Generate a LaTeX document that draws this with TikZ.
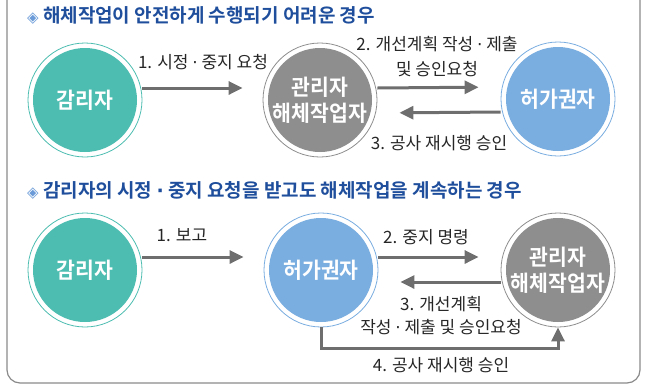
\documentclass[tikz,border=0pt]{standalone}
\usepackage{fontspec}
\setmainfont{Noto Sans CJK KR}[BoldFont={Noto Sans CJK KR Bold}]
\newfontfamily\condfont{Noto Sans CJK KR}[FakeStretch=0.93, BoldFont={Noto Sans CJK KR Bold}]
\newfontfamily\symfont{DejaVu Sans}
\usetikzlibrary{arrows.meta}

\definecolor{tealfill}{HTML}{4DBDB1}
\definecolor{greyfill}{HTML}{8E8E8E}
\definecolor{bluefill}{HTML}{7AADE0}
\definecolor{arrowgrey}{HTML}{6E6E6E}
\definecolor{titleblue}{HTML}{1E4E9C}
\definecolor{diamondblue}{HTML}{6A9BD8}
\definecolor{framegrey}{HTML}{8A8A8A}

\newcommand{\headmark}{{\symfont\color{diamondblue}\fontsize{15}{18}\selectfont ◈}}
\newcommand{\mdot}{{\symfont ·}}

\tikzset{
  party/.style={circle, minimum size=114pt, inner sep=0pt, draw=#1, line width=0.8pt, fill=white,
    path picture={\fill[#1] (path picture bounding box.center) circle (52pt);},
    text=white, font=\condfont\bfseries\fontsize{22}{26}\selectfont, align=center},
  flow/.style={draw=arrowgrey, line width=3pt, -{Triangle[length=14pt,width=13pt]}},
  steplabel/.style={text=black!85, font=\fontsize{17}{23}\selectfont, align=center, inner sep=0pt},
  heading/.style={anchor=west, text=titleblue, font=\bfseries\fontsize{19}{20}\selectfont, inner sep=0pt}
}

\begin{document}
\begin{tikzpicture}[x=1pt, y=-1pt]
    \useasboundingbox (0,0) rectangle (645,386);
    \draw [framegrey, line width=1.2pt, rounded corners=13pt] (7,-20) rectangle (640,383);

    % Headings
    \node (head1) [heading] at (27,15) {\headmark\ 해체작업이 안전하게 수행되기 어려운 경우};
    \node (head2) [heading] at (27,190) {\headmark\ 감리자의 시정 \mdot{} 중지 요청을 받고도 해체작업을 계속하는 경우};

    % Nodes
    \node (gamri1) [party=tealfill] at (85,100) {감리자};
    \node (gwanri1) [party=greyfill] at (320,100) {관리자\\해체작업자};
    \node (heoga1) [party=bluefill] at (558,99) {허가권자};

    \node (gamri2) [party=tealfill] at (85,270) {감리자};
    \node (heoga2) [party=bluefill] at (321,270) {허가권자};
    \node (gwanri2) [party=greyfill] at (558,270) {관리자\\해체작업자};

    % Labels
    \node (lab11) [steplabel] at (203,62) {1. 시정 \mdot{} 중지 요청};
    \node (lab12) [steplabel] at (437,57) {2. 개선계획 작성 \mdot{} 제출\\[2pt]및 승인요청};
    \node (lab13) [steplabel] at (439,143) {3. 공사 재시행 승인};

    \node (lab21) [steplabel] at (182,235) {1. 보고};
    \node (lab22) [steplabel] at (426,237) {2. 중지 명령};
    \node (lab23) [steplabel] at (441,316) {3. 개선계획\\작성 \mdot{} 제출 및 승인요청};
    \node (lab24) [steplabel] at (441,365) {4. 공사 재시행 승인};

    % Arrows
    \draw [flow, shorten >=20pt] ([yshift=12pt]gamri1.east) -- ([yshift=12pt]gwanri1.west);
    \draw [flow, shorten >=22pt] ([yshift=12pt]gwanri1.east) -- ([yshift=12pt]heoga1.west);
    \draw [flow, shorten >=22pt] ([yshift=-13pt]heoga1.west) -- ([yshift=-13pt]gwanri1.east);

    \draw [flow, shorten >=20pt] ([yshift=13pt]gamri2.east) -- ([yshift=13pt]heoga2.west);
    \draw [flow, shorten >=22pt] ([yshift=13pt]heoga2.east) -- ([yshift=13pt]gwanri2.west);
    \draw [flow, shorten >=22pt] ([yshift=-12pt]gwanri2.west) -- ([yshift=-12pt]heoga2.east);
    \draw [flow] (heoga2.south) -- ++(0,21) -| (gwanri2.south);

\end{tikzpicture}
\end{document}
